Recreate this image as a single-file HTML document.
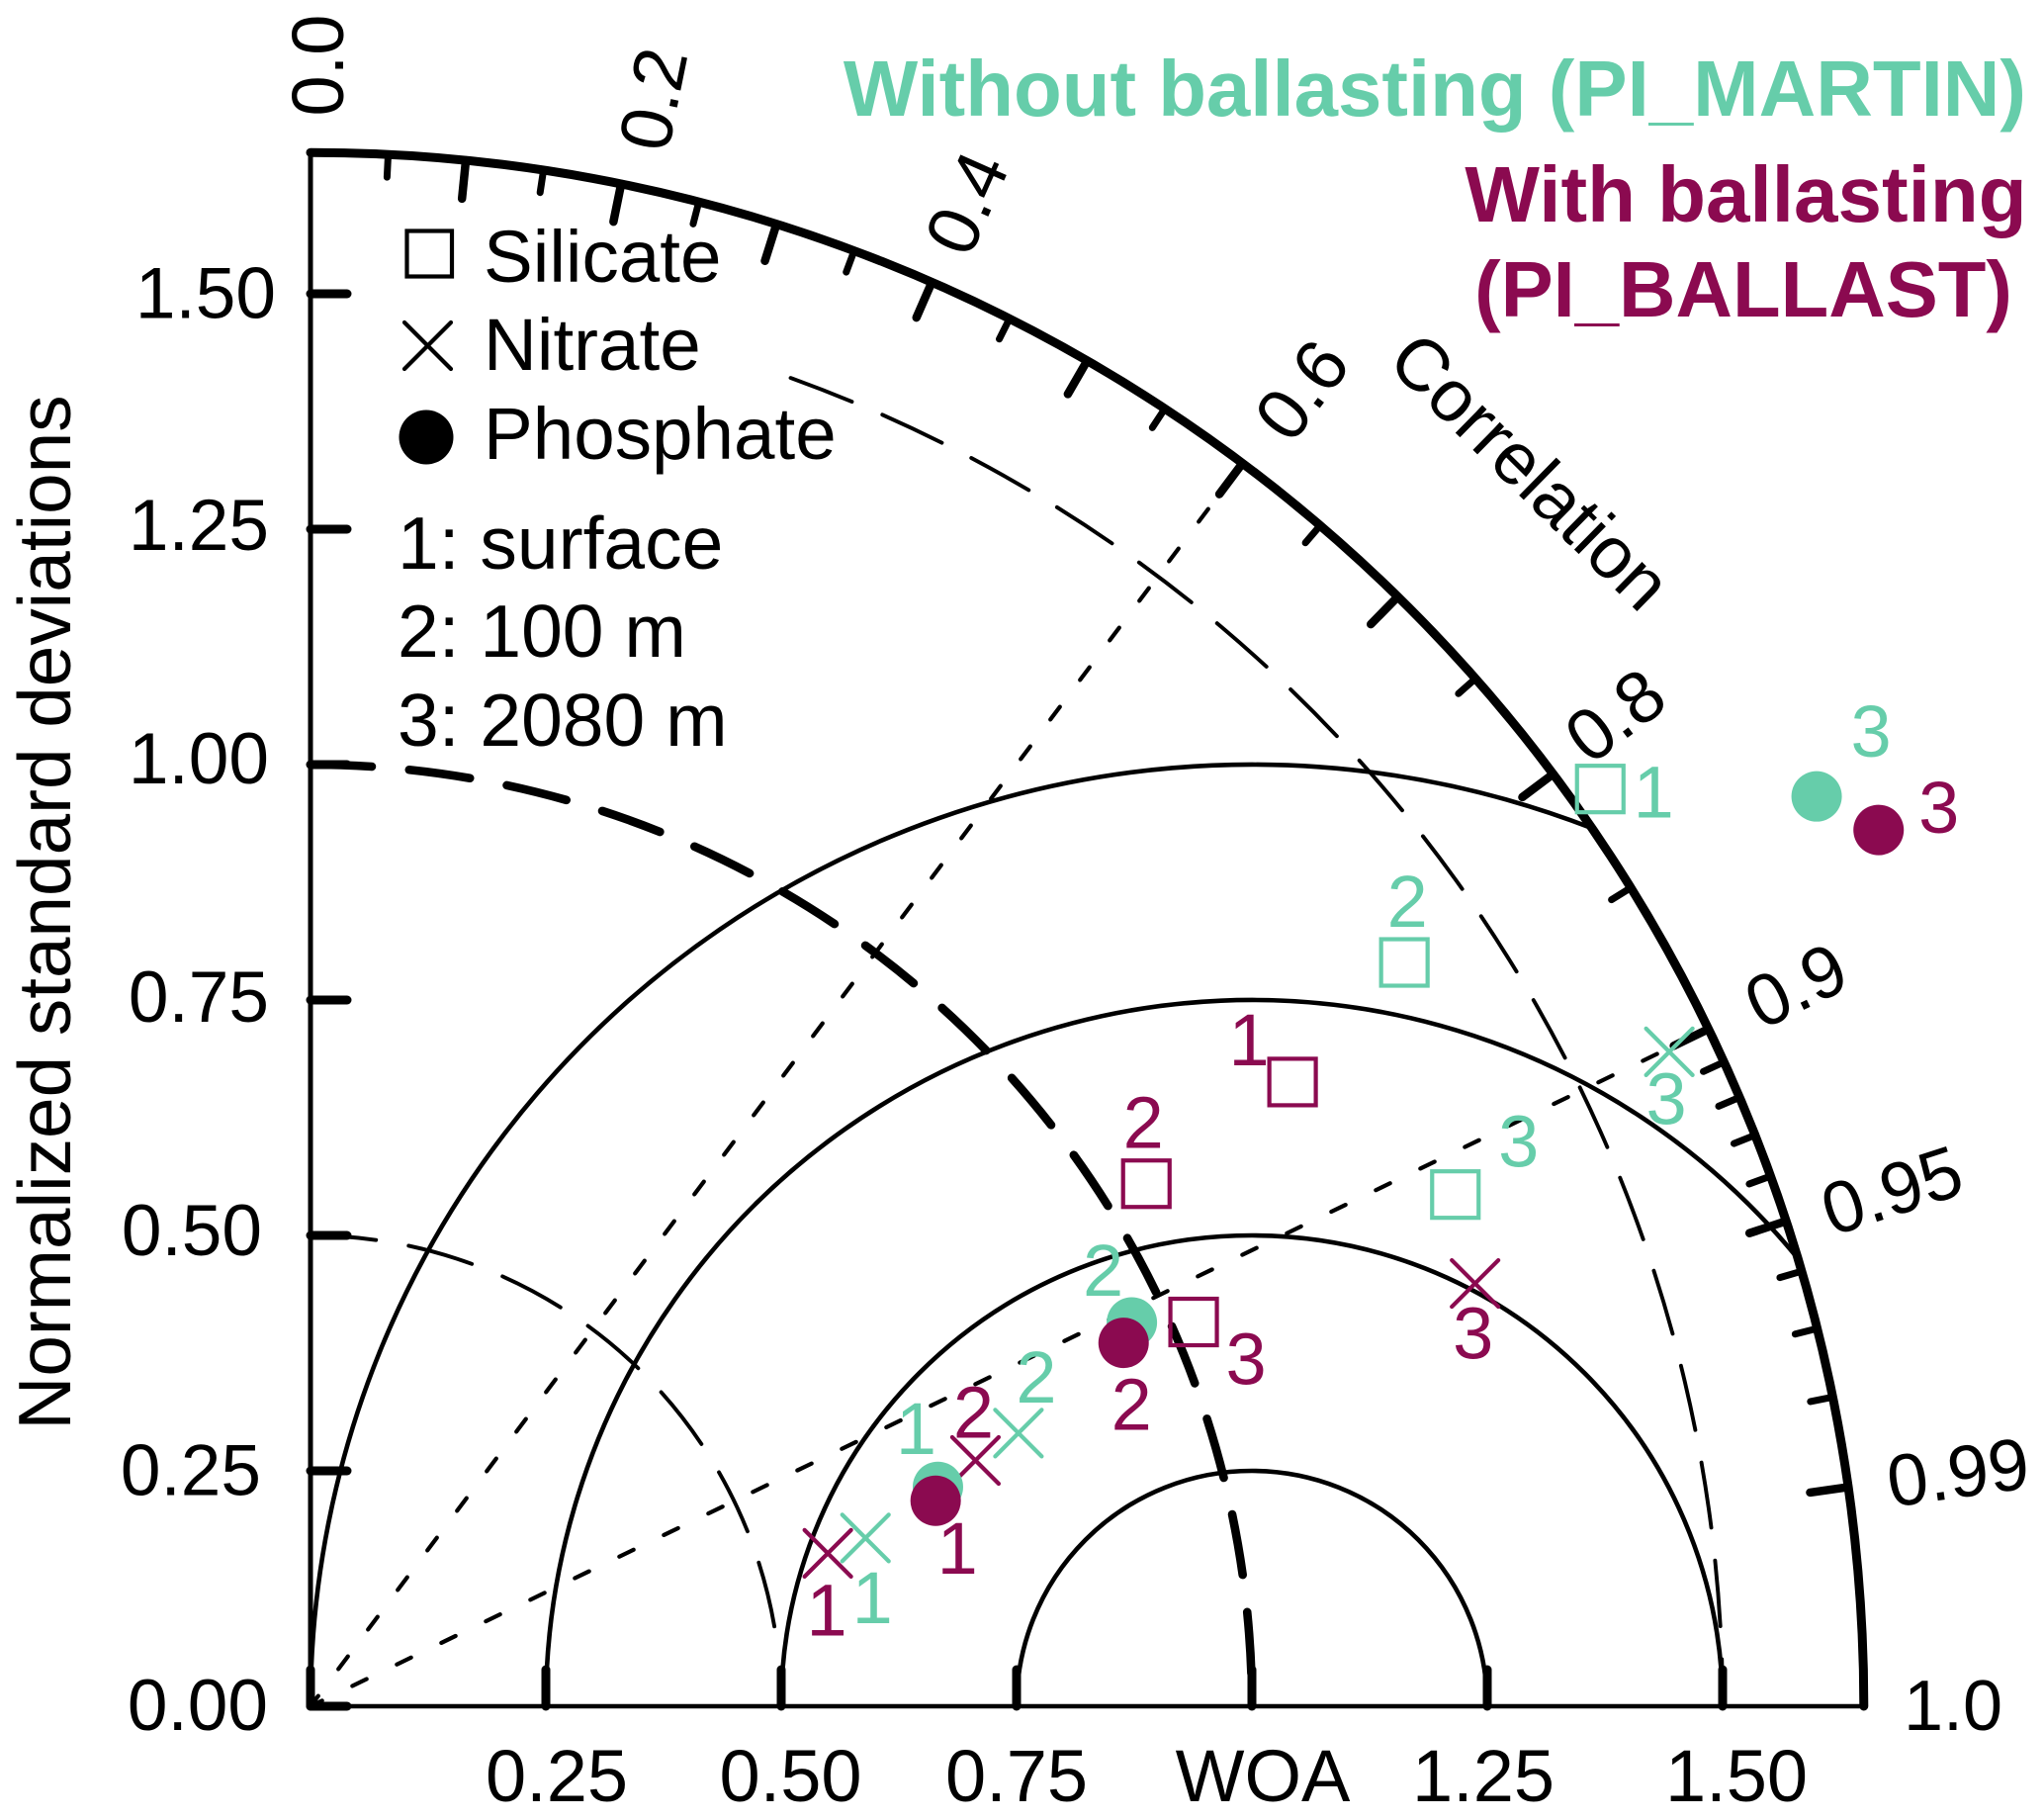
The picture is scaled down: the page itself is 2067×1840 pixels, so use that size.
<!DOCTYPE html>
<html lang="en">
<head>
<meta charset="utf-8">
<title>Taylor diagram: with and without ballasting</title>
<style>
html,body{margin:0;padding:0;background:#fff;}
#chart{position:absolute;left:0;top:0;display:block;font-family:"Liberation Sans",Arial,sans-serif;}
text{font-family:"Liberation Sans",Arial,sans-serif;}
</style>
</head>
<body>
<svg id="chart" xmlns="http://www.w3.org/2000/svg" width="2067" height="1840" viewBox="0 0 2067 1840">
  <rect x="0" y="0" width="2067" height="1840" fill="#ffffff"/>
  <g id="grid"></g>
  <g id="axes"></g>
  <g id="points"></g>
  <g id="legend">
    <rect x="411.5" y="233.5" width="45.5" height="46" fill="none" stroke="#000" stroke-width="4.2"/>
    <text x="489" y="285" font-size="74.6">Silicate</text>
    <path d="M409 326L456 373M456 326L409 373" fill="none" stroke="#000" stroke-width="4.2" stroke-linecap="round"/>
    <text x="489" y="374" font-size="74.6">Nitrate</text>
    <circle cx="431" cy="442" r="27.5" fill="#000"/>
    <text x="489" y="464" font-size="74.6">Phosphate</text>
    <text x="402" y="575" font-size="75">1: surface</text>
    <text x="402" y="664" font-size="75">2: 100 m</text>
    <text x="402" y="754" font-size="75">3: 2080 m</text>
  </g>
  <text x="2049" y="117" font-size="79.8" font-weight="bold" fill="#66CDAA" text-anchor="end">Without ballasting (PI_MARTIN)</text>
  <text x="1765.5" y="224" font-size="80" font-weight="bold" fill="#8B0A50" text-anchor="middle">With ballasting</text>
  <text x="1763" y="320" font-size="79.6" font-weight="bold" fill="#8B0A50" text-anchor="middle">(PI_BALLAST)</text>
  <text transform="translate(71,922.5) rotate(-90)" font-size="74.7" text-anchor="middle">Normalized standard deviations</text>
  <text transform="translate(1548,476) rotate(44.5)" y="26" font-size="74" text-anchor="middle">Correlation</text>
</svg>
<script>
// ---- chart data (normalized standard deviation and correlation) ----
const depthLabels = ['1', '2', '3'];

const silicateMartinSd = [1.681, 1.405, 1.332];
const silicateMartinCorr = [0.815, 0.827, 0.913];
const silicateBallastSd = [1.236, 1.047, 1.023];
const silicateBallastCorr = [0.844, 0.848, 0.917];

const nitrateMartinSd = [0.616, 0.806, 1.602];
const nitrateMartinCorr = [0.957, 0.933, 0.901];
const nitrateBallastSd = [0.573, 0.753, 1.316];
const nitrateBallastCorr = [0.959, 0.938, 0.940];

const phosphateMartinSd = [0.706, 0.963, 1.869];
const phosphateMartinCorr = [0.944, 0.906, 0.856];
const phosphateBallastSd = [0.699, 0.946, 1.908];
const phosphateBallastCorr = [0.950, 0.913, 0.873];

const sdTicks = [0, 0.25, 0.5, 0.75, 1, 1.25, 1.5];
const yTickLabels = ['0.00', '0.25', '0.50', '0.75', '1.00', '1.25', '1.50'];
const xTickLabels = ['0.25', '0.50', '0.75', 'WOA', '1.25', '1.50'];
const bigCorrTicks = [0.1, 0.2, 0.3, 0.4, 0.5, 0.6, 0.7, 0.8, 0.9, 0.95, 0.99];
const medCorrTicks = [0.05, 0.15, 0.25, 0.35, 0.45, 0.55, 0.65, 0.75, 0.85];
const smallCorrTicks = [0.91, 0.92, 0.93, 0.94, 0.96, 0.97, 0.98];
const corrTickLabels = ['0.0', '0.2', '0.4', '0.6', '0.8', '0.9', '0.95', '0.99'];
const rmsArcs = [0.25, 0.5, 0.75, 1];
const maxSd = 1.65;

// ---- layout ----
const NS = 'http://www.w3.org/2000/svg';
const originX = 314, originY = 1725, unit = 952;
const GREEN = '#66CDAA', PURPLE = '#8B0A50';
function sx(u) { return originX + u * unit; }
function sy(v) { return originY - v * unit; }
function polarX(sd, corr) { return sx(sd * corr); }
function polarY(sd, corr) { return sy(sd * Math.sqrt(Math.max(0, 1 - corr * corr))); }
function make(tag, parent, attrs, text) {
  const el = document.createElementNS(NS, tag);
  for (const k in attrs) el.setAttribute(k, attrs[k]);
  if (text !== undefined) el.textContent = text;
  parent.appendChild(el);
  return el;
}
const grid = document.getElementById('grid');
const axes = document.getElementById('axes');
const points = document.getElementById('points');

// RMS arcs centred on the reference point
rmsArcs.forEach(function (rho) {
  const endX = Math.min(1 + rho, (maxSd * maxSd + 1 - rho * rho) / 2);
  const endY = Math.sqrt(Math.max(0, rho * rho - (endX - 1) * (endX - 1)));
  const d = 'M' + sx(1 - rho) + ' ' + sy(0) + 'A' + rho * unit + ' ' + rho * unit + ' 0 0 1 ' + sx(endX) + ' ' + sy(endY);
  const el = make('path', grid, { d: d, fill: 'none', stroke: '#000', 'stroke-width': 4.6 });
  
  
});

// standard deviation dashed arcs
function sdArc(sd, startCorr, endCorr, width, dash) {
  const d = 'M' + polarX(sd, startCorr) + ' ' + polarY(sd, startCorr) + 'A' + sd * unit + ' ' + sd * unit + ' 0 0 1 ' + polarX(sd, endCorr) + ' ' + polarY(sd, endCorr);
  return make('path', grid, { d: d, fill: 'none', stroke: '#000', 'stroke-width': width, 'stroke-dasharray': dash, 'stroke-linecap': 'round' });
}
const arcHalf = sdArc(0.5, 0, 0.986, 3.9, '66.5 33.5');


const arcOne = sdArc(1, 0, 1, 8.6, '62 38');


const arcOneHalf = sdArc(1.5, 0.34, 1, 3.9, '66.5 33.5');



// correlation dashed radials
[0.6, 0.9].forEach(function (corr) {
  const el = make('line', grid, {
    x1: sx(0), y1: sy(0), x2: polarX(maxSd - 0.03, corr), y2: polarY(maxSd - 0.03, corr),
    stroke: '#000', 'stroke-width': 4.2, 'stroke-dasharray': '16 34', 'stroke-dashoffset': 3, 'stroke-linecap': 'round'
  });
  
  
});

// axes and outer arc
const yAxis = make('line', axes, { x1: sx(0), y1: sy(0), x2: sx(0), y2: sy(maxSd), stroke: '#000', 'stroke-width': 5 });


const xAxis = make('line', axes, { x1: sx(0), y1: sy(0), x2: sx(maxSd), y2: sy(0), stroke: '#000', 'stroke-width': 4.6 });


const outerArc = make('path', axes, {
  d: 'M' + sx(0) + ' ' + sy(maxSd) + 'A' + maxSd * unit + ' ' + maxSd * unit + ' 0 0 1 ' + sx(maxSd) + ' ' + sy(0),
  fill: 'none', stroke: '#000', 'stroke-width': 9, 'stroke-linecap': 'round'
});



// axis ticks
sdTicks.forEach(function (v) {
  const tickY = make('line', axes, { x1: sx(0), y1: sy(v), x2: sx(0) + 37, y2: sy(v), stroke: '#000', 'stroke-width': 9, 'stroke-linecap': 'round' });
  
  
  const tickX = make('line', axes, { x1: sx(v), y1: sy(0), x2: sx(v), y2: sy(0) - 37, stroke: '#000', 'stroke-width': 9, 'stroke-linecap': 'round' });
  
  
});
function corrTick(corr, length, width) {
  const inner = maxSd - length / unit;
  return make('line', axes, {
    x1: polarX(maxSd, corr), y1: polarY(maxSd, corr), x2: polarX(inner, corr), y2: polarY(inner, corr),
    stroke: '#000', 'stroke-width': width, 'stroke-linecap': 'round'
  });
}
bigCorrTicks.forEach(function (c) {
  const t = corrTick(c, 39, 8.5);
  
  
});
medCorrTicks.forEach(function (c) {
  const t = corrTick(c, 23, 7);
  
  
});
smallCorrTicks.forEach(function (c) {
  const t = corrTick(c, 23, 7);
  
  
});

// tick labels
const yLabelRight = [271, 264, 265, 272, 272, 272, 279];
const yLabelBase = [1749, 1511.5, 1269, 1033, 792, 556, 321.6];
yTickLabels.forEach(function (s, i) {
  const t = make('text', axes, { x: yLabelRight[i], y: yLabelBase[i], 'font-size': 73, 'text-anchor': 'end' }, s);
  
  
});
const xLabelCenter = [563, 799.5, 1028, 1277, 1500, 1756];
xTickLabels.forEach(function (s, i) {
  const t = make('text', axes, { x: xLabelCenter[i], y: 1821, 'font-size': 74, 'text-anchor': 'middle' }, s);
  
  
});
const endLabel = make('text', axes, { x: 1925, y: 1749, 'font-size': 72 }, '1.0');


const corrLabelX = [321, 660, 977, 1316, 1633, 1816, 1913, 1980];
const corrLabelY = [66, 100, 205, 394, 723, 996, 1203, 1488];
const corrLabelRot = [-90, -78.5, -66, -53, -37, -26, -18, -8];
corrTickLabels.forEach(function (s, i) {
  const t = make('text', axes, {
    transform: 'translate(' + corrLabelX[i] + ',' + corrLabelY[i] + ') rotate(' + corrLabelRot[i] + ')',
    y: 26, 'font-size': 74, 'text-anchor': 'middle'
  }, s);
  
  
});

// markers
function drawMarker(kind, sd, corr, color) {
  const x = polarX(sd, corr), y = polarY(sd, corr);
  if (kind === 'square') {
    return make('rect', points, { x: x - 23.5, y: y - 23.5, width: 47, height: 47, fill: 'none', stroke: color, 'stroke-width': 4.2 });
  }
  if (kind === 'cross') {
    const a = 23.5;
    return make('path', points, {
      d: 'M' + (x - a) + ' ' + (y - a) + 'L' + (x + a) + ' ' + (y + a) + 'M' + (x - a) + ' ' + (y + a) + 'L' + (x + a) + ' ' + (y - a),
      fill: 'none', stroke: color, 'stroke-width': 4.2, 'stroke-linecap': 'round'
    });
  }
  return make('circle', points, { cx: x, cy: y, r: 25.5, fill: color });
}
function drawSeries(name, kind, sds, corrs, color, labelDx, labelDy) {
  sds.forEach(function (sd, i) {
    const m = drawMarker(kind, sd, corrs[i], color);
    
    
    const t = make('text', points, {
      x: polarX(sd, corrs[i]) + labelDx[i], y: polarY(sd, corrs[i]) + labelDy[i],
      'font-size': 74, 'text-anchor': 'middle', fill: color
    }, depthLabels[i]);
    
    
  });
}
drawSeries('silicate-martin', 'square', silicateMartinSd, silicateMartinCorr, GREEN, [54, 3, 64], [29, -36, -28]);
drawSeries('silicate-ballast', 'square', silicateBallastSd, silicateBallastCorr, PURPLE, [-44, -3, 53], [-17, -36, 63]);
drawSeries('nitrate-martin', 'cross', nitrateMartinSd, nitrateMartinCorr, GREEN, [7, 18, -3], [86, -31, 73]);
drawSeries('nitrate-ballast', 'cross', nitrateBallastSd, nitrateBallastCorr, PURPLE, [-1, -2, -2], [83, -23, 76]);
drawSeries('phosphate-martin', 'circle', phosphateMartinSd, phosphateMartinCorr, GREEN, [-22, -29, 55], [-33, -27, -40]);
drawSeries('phosphate-ballast', 'circle', phosphateBallastSd, phosphateBallastCorr, PURPLE, [22, 8, 61], [74, 88, 3]);
</script>
</body>
</html>
